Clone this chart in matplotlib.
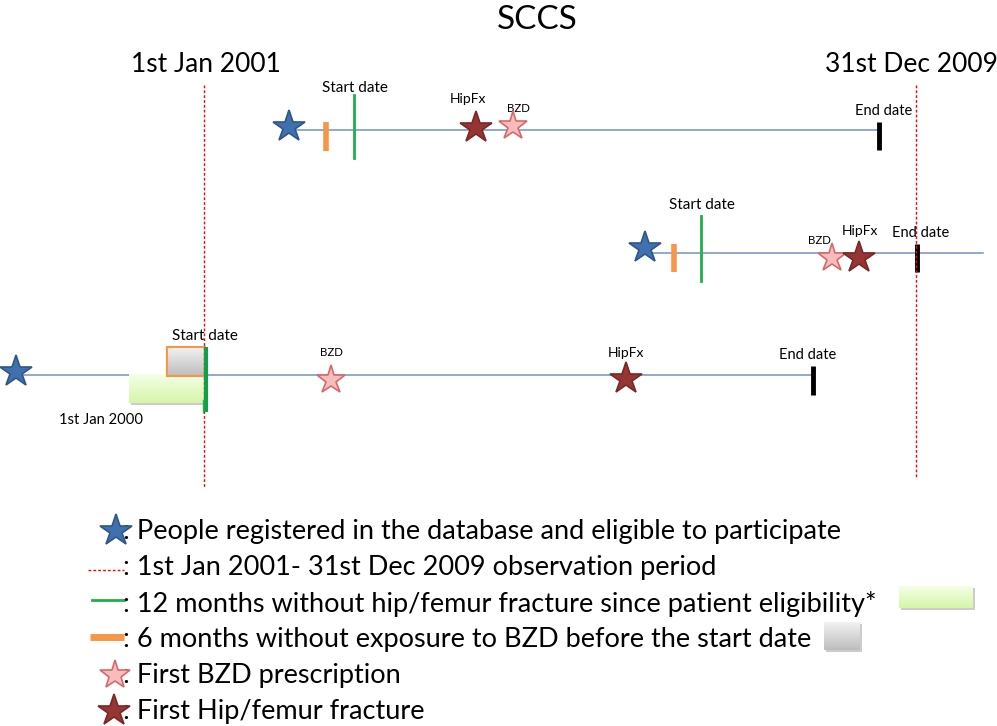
import numpy as np
import matplotlib
matplotlib.use("Agg")
import matplotlib.pyplot as plt

plt.rcParams['font.family'] = ['Lato', 'DejaVu Sans']

# ---- data (event positions on each patient's timeline, pixel-time scale) ----
row_y = [130, 253, 375]
line_start = [289, 645, 16]
line_end = [879, 983, 812]
registered = [289, 645, 16]
bzd_free = [326, 674, None]
start_date = [354, 701, 206]
first_bzd = [513, 832, 331]
first_hipfx = [476, 859, 626]
end_date = [879, 917, 813]
obs_start, obs_end = 204, 916

legend_texts = [
    ": People registered in the database and eligible to participate",
    ": 1st Jan 2001- 31st Dec 2009 observation period",
    ": 12 months without hip/femur fracture since patient eligibility*",
    ": 6 months without exposure to BZD before the start date",
    ": First BZD prescription",
    ": First Hip/femur fracture",
]

BLUE_F, BLUE_E = '#4170AE', '#2F5688'
RED_F, RED_E = '#963634', '#7A2826'
PINK_F, PINK_E = '#F7BDBD', '#D7686A'
LINE = '#6F93C6'
GREEN = '#1FB04A'
ORANGE = '#F79646'

fig = plt.figure(figsize=(9.97, 7.26), dpi=100)
ax = fig.add_axes([0, 0, 1, 1])
ax.set_xlim(0, 997)
ax.set_ylim(726, 0)
ax.axis('off')


def star(x, y, kind, ms=None):
    if kind == 'reg':
        ax.plot(x, y, marker='*', ms=ms or 24, mfc=BLUE_F, mec=BLUE_E, mew=1.2, zorder=6)
    elif kind == 'hip':
        ax.plot(x, y, marker='*', ms=ms or 24, mfc=RED_F, mec=RED_E, mew=1.2, zorder=6)
    else:
        ax.plot(x, y, marker='*', ms=ms or 21, mfc=PINK_F, mec=PINK_E, mew=1.2, zorder=6)


def gradient_box(x0, y0, x1, y1, ctop, cbot, edge=None):
    g = np.linspace(0, 1, 64)[:, None]
    ct = np.array(matplotlib.colors.to_rgb(ctop))
    cb = np.array(matplotlib.colors.to_rgb(cbot))
    img = ct[None, None, :] * (1 - g[..., None]) + cb[None, None, :] * g[..., None]
    ax.imshow(img, extent=(x0, x1, y1, y0), aspect='auto', zorder=3, interpolation='bilinear')
    ax.add_patch(plt.Rectangle((x0 + 2, y0 + 2), x1 - x0, y1 - y0, fc='#cccccc', ec='none', zorder=2))
    if edge:
        ax.add_patch(plt.Rectangle((x0, y0), x1 - x0, y1 - y0, fc='none', ec=edge, lw=1.5, zorder=4))


# title and period labels
ax.text(537, 20, "SCCS", ha='center', va='center', fontsize=24)
ax.text(206, 64, "1st Jan 2001", ha='center', va='center', fontsize=19)
ax.text(911, 64, "31st Dec 2009", ha='center', va='center', fontsize=19)

# observation period
ax.plot([obs_start, obs_start], [85, 487], color='red', ls=(0, (2, 1.5)), lw=1, zorder=5)
ax.plot([obs_end, obs_end], [85, 478], color='red', ls=(0, (2, 1.5)), lw=1, zorder=5)

# timelines
for i in range(3):
    y = row_y[i]
    ax.plot([line_start[i], line_end[i]], [y, y], color=LINE, lw=1.1, zorder=1)

FS_START, FS_END, FS_HIP, FS_BZD = 11, 10.5, 10, 8.3

# row 1
ax.plot([bzd_free[0]] * 2, [122, 151], color=ORANGE, lw=4, solid_capstyle='butt', zorder=4)
ax.plot([start_date[0]] * 2, [95, 158], color=GREEN, lw=2, zorder=4)
ax.plot([end_date[0]] * 2, [122, 150], color='black', lw=3.5, solid_capstyle='butt', zorder=4)
star(registered[0], 127, 'reg')
star(first_hipfx[0], 128, 'hip')
star(first_bzd[0], 126, 'bzd')
ax.text(355, 88, "Start date", ha='center', va='center', fontsize=FS_START)
ax.text(468, 99, "HipFx", ha='center', va='center', fontsize=FS_HIP)
ax.text(518, 108, "BZD", ha='center', va='center', fontsize=FS_BZD)
ax.text(884, 111, "End date", ha='center', va='center', fontsize=FS_END)

# row 2
ax.plot([bzd_free[1]] * 2, [244, 272], color=ORANGE, lw=4, solid_capstyle='butt', zorder=4)
ax.plot([start_date[1]] * 2, [216, 281], color=GREEN, lw=2, zorder=4)
ax.plot([end_date[1]] * 2, [244, 272], color='black', lw=3.5, solid_capstyle='butt', zorder=4)
star(registered[1], 248, 'reg')
star(first_bzd[1], 258, 'bzd')
star(first_hipfx[1], 258, 'hip')
ax.text(702, 205, "Start date", ha='center', va='center', fontsize=FS_START)
ax.text(819, 240, "BZD", ha='center', va='center', fontsize=FS_BZD)
ax.text(860, 231, "HipFx", ha='center', va='center', fontsize=FS_HIP)
ax.text(921, 233, "End date", ha='center', va='center', fontsize=FS_END)

# row 3
gradient_box(129, 374, 205, 403, '#F4FFE6', '#D6F5A8')
gradient_box(167, 347, 205, 376, '#F2F2F2', '#BDBDBD', edge=ORANGE)
ax.plot([start_date[2]] * 2, [347, 412], color='#12A046', lw=3, solid_capstyle='butt', zorder=5)
ax.plot([203, 203], [400, 412], color=GREEN, lw=1, zorder=5)
ax.plot([end_date[2]] * 2, [366, 395], color='black', lw=3.5, solid_capstyle='butt', zorder=4)
star(registered[2], 372, 'reg')
star(first_bzd[2], 380, 'bzd')
star(first_hipfx[2], 379, 'hip')
ax.text(205, 336, "Start date", ha='center', va='center', fontsize=FS_START)
ax.text(331, 352, "BZD", ha='center', va='center', fontsize=FS_BZD)
ax.text(626, 353, "HipFx", ha='center', va='center', fontsize=FS_HIP)
ax.text(808, 355, "End date", ha='center', va='center', fontsize=FS_END)
ax.text(101, 420, "1st Jan 2000", ha='center', va='center', fontsize=10.6)

# legend
leg_y = [532, 568, 604, 640, 676, 712]
star(116, 531, 'reg', ms=24)
ax.plot([88, 124], [570, 570], color='red', ls=(0, (2, 1.5)), lw=1)
ax.plot([92, 124], [600, 600], color=GREEN, lw=2)
ax.plot([90, 124], [637, 637], color=ORANGE, lw=5, solid_capstyle='butt')
star(115, 675, 'bzd', ms=22)
star(114, 711, 'hip', ms=24)
for yy, t in zip(leg_y, legend_texts):
    ax.text(123, yy, t, ha='left', va='center', fontsize=19.5)
gradient_box(899, 586, 973, 608, '#F4FFE6', '#D6F5A8')
gradient_box(824, 622, 860, 650, '#F2F2F2', '#BDBDBD')

fig.savefig("out.png", dpi=100)
